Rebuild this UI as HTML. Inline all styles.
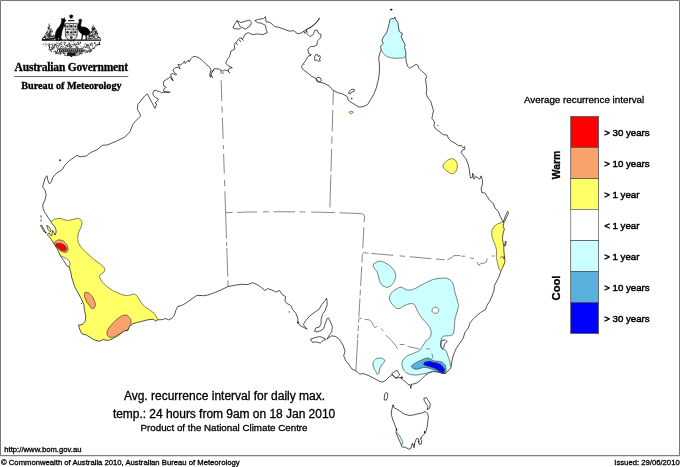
<!DOCTYPE html>
<html lang="en">
<head>
<meta charset="utf-8">
<title>Average recurrence interval for daily maximum temperature</title>
<style>
html,body{margin:0;padding:0;background:#fff;}
body{width:680px;height:467px;position:relative;overflow:hidden;font-family:"Liberation Sans",sans-serif;color:#000;}
.t{position:absolute;white-space:nowrap;line-height:1;font-family:"Liberation Sans",sans-serif;-webkit-text-stroke:0.3px #000;}
.serif{font-family:"Liberation Serif",serif;font-weight:bold;}
.lab{left:604.2px;font-size:9.7px;-webkit-text-stroke:0.45px #000;margin-top:0.6px;}
.rot{font-weight:bold;font-size:11.2px;transform:translate(-50%,-50%) rotate(-90deg);}
.sm{font-size:7.7px;}
#map{position:absolute;left:0;top:0;}
</style>
</head>
<body>
<svg id="map" width="680" height="467" viewBox="0 0 680 467">
<path d="M0.5,456V0.5H679.5V456" fill="none" stroke="#777" stroke-width="1"/><path d="M0,455.65H680" stroke="#808080" stroke-width="1.1"/>
<!--MAP-->
<defs><clipPath id="land"><path d="M50.4,220.8L48.3,217.8L46.6,214.9L44.4,211.9L43.1,208.4L42.7,205L45,200L46.2,194.7L45,190.3L42.7,186.8L44.1,181.5L45.5,177.1L47.1,175.8L47.6,179.7L49.4,183.8L51.5,181.5L52.9,177.1L56.5,173.2L61.8,170L65.3,164.7L69.2,160.8L74.1,157.3L76.8,155.5L80.3,156.8L86.5,155.9L90.9,152.4L97.1,149.7L102.4,145.3L107.6,144.9L112.9,142.6L117.6,140.6L124.7,137.1L130,131.8L132.6,124.7L136.2,120.3L140.6,116.2L139.7,113.2L137.4,109.7L137.9,104.4L141.5,100L145,95.6L147.3,93.8L155,108.4L155.6,106.8L156.7,104L155,102.9L157.8,100.6L158.4,99L155.5,97.5L153.4,95.6L152.8,93.4L153.9,90.6L156.1,90.1L157.8,91.7L159.5,91.2L161.7,92.9L163.9,92.3L170.1,92.3L163.9,91.4L163.4,89.5L165.1,88.4L166.2,87.3L163.9,86.2L163.4,83.9L163.9,81.2L166.2,79.5L168.4,78.4L170.1,76.7L171.7,78.4L172.9,80.6L171.4,77L170.6,74.5L172.9,73.4L175.6,75L176.7,74.5L174,72.2L172.9,70L175.1,67.8L177.9,67.2L180.1,68.9L179,66.1L177.9,64.5L180.6,65L182.9,63.3L184.5,61.1L185.3,63.6L186.8,61.7L188.4,60L189.1,61.9L191.1,58.6L193.1,56.6L195.8,56.6L199.1,57.9L202.4,60.6L206.4,64.6L209.7,67.2L211,69.9L209.7,74.5L210.4,77.2L211.5,73L212.3,71.2L214.3,68.5L219.6,69.2L222.3,71.2L225,69.9L228.3,71.1L228.9,68.4L232.3,67.7L228.3,65.8L225.6,63.1L227.6,59.1L229.6,56.5L230.9,51.2L234.9,49.2L234.2,44.5L236.9,41.2L239.6,37.9L242.9,38.5L244.9,34.6L248.2,32.6L252.2,34.6L257.5,33.9L262.8,34.6L267.4,32.6L266.1,29.2L265.4,25.3L261.5,23.3L257.5,22.6L254.8,20.6L258.8,19.3L263.5,18.6L265.4,16.6L266.1,21.9L268.1,21.9L271.4,23.3L274.7,26.6L278.7,27.3L284,29.2L289.3,31.2L293.3,30.6L298,33.9L301.9,32.6L306.6,29.3L311.9,26.5L315.8,23.2L318.5,19.9L319.4,17.9L318.5,19.9L315.8,23.2L311.9,26.5L306.6,29.6L305.9,32.6L309.9,36.6L313.2,34.6L314.6,30.6L317.2,30L318.5,33.3L321.2,34.6L320.5,37.9L317.2,41.2L317.2,44.6L313.9,46.5L310.6,46.5L307.9,49.2L308.6,53.2L310.6,54.5L307.9,56.5L305.3,61.2L301.3,66.5L303.3,69.8L307.9,73.1L311.9,76.4L315.9,78.4L318.6,81.9L323.9,83.2L329.2,85.9L332.5,89.9L337.2,92.5L342.5,93.9L347.1,96.5L348.5,100.5L352.4,103.1L355.8,105.1L359.1,107.1L363.7,106.5L367.7,104.5L370.4,99.8L373.7,94.5L376.3,87.9L378.3,79.9L379.3,73.3L379.5,66.6L379.2,62.1L378.6,58.1L379.9,52.8L381.2,50.1L380.6,46.2L383.2,43.5L381.9,40.2L383.9,36.2L386.5,32.9L387.9,28.9L389.2,23.6L389.9,19.6L391.9,18.3L393.9,18.9L394.8,16.9L395.8,19.6L397.8,22.3L398.5,26.9L399.2,31.5L402.5,33.5L401.2,36.9L403.1,40.8L405.1,44.8L404.5,47.5L405.8,51.5L405.8,56.8L406.2,61.6L407.6,66.3L409.6,68.3L412.9,66.3L416.2,64.3L418.2,65.6L418.9,68.3L422.2,71.6L425.5,74.2L426.8,76.2L425.5,79.6L426.2,84.2L426.8,89.5L426.2,94.2L428.1,98.1L430.8,101.5L432.1,106.1L433.5,110.8L432.6,114.6L431.9,118.6L434.6,121.9L433.9,125.9L435.9,129.2L439.9,131.9L443.2,134.6L447.2,135.2L448.5,138.5L451.2,141.2L455.1,143.2L458.5,145.8L461.1,145.2L463.1,147.8L464.4,146.5L465.1,149.2L462.4,149.8L461.1,152.5L462.5,154.6L465.8,158.6L467.8,163.3L469.2,168.6L469.8,173.9L470.5,177.9L472.5,177.2L472.5,173.2L473.8,175.2L473.8,179.2L475.8,176.5L479.8,179.2L481.1,175.9L482.4,179.9L482.4,184.5L481.1,188.5L481.8,192.5L485.1,193.1L487.1,196.5L489.7,200.4L493.1,203.3L495.1,208L498.5,211.9L500.4,216.6L502.4,220.6L503.8,223.2L503.1,226.5L504.4,229.2L503.1,233.2L502.4,238.5L503.1,242.5L503.8,246.5L503.8,250.4L504.4,255.8L505,261.9L503.1,266.6L501.1,270.6L499.1,276.5L496.4,281.9L494.4,285.8L494.2,289.8L492.4,295.1L489.8,301.1L487,305.3L485.7,309.3L480.4,312.6L476.4,315.9L472.4,319.9L469.7,323.2L468.4,327.9L465.1,331.9L463.1,338.5L459.8,343.1L456.5,347.8L454.5,352.4L453,356.2L451.7,362.2L451,367.5L448.4,370.8L445.7,373.5L442.4,373.5L438.4,372.2L433.1,371.5L429.1,372.8L425.1,375.5L421.2,379.5L417.2,382.8L413.2,384.1L411.6,384.1L410.8,388.5L410,384.5L408.5,384.8L405.9,382.1L402.6,379.5L399.9,377.5L396,378.2L399.7,374.9L397,370.2L391.7,373.5L393.7,376.2L396,378.2L393.7,376.2L392,374.6L389.1,376.9L385.8,380.2L382.4,382.2L378.5,380.8L373.8,378.2L368.5,375.5L363.2,373.5L359.9,374.2L355.9,370.9L351.9,368.9L348.6,364.2L345.7,360.5L343.7,355.8L345,351.1L343,345.1L339.7,339.8L335.7,336.5L331.7,335.8L329,337.5L327.1,339.2L329.1,335.2L331.7,331.9L332.4,326.5L330.4,321.9L328.4,317.9L327.1,318.6L325.1,323.9L323.8,328.5L321.1,330.5L317.1,331.9L314.5,331.2L315.8,327.9L319.1,327.2L321.1,323.9L321.1,319.2L322.4,314.6L325.1,310.6L327.1,305.3L327.1,301.3L326.5,298L325.8,300L324.4,301.3L321.8,304.6L319.1,309.3L315.1,311.9L309.8,315.9L305.8,320.6L303.2,324.6L307.2,329.2L303.2,327.2L300.5,325.9L297.9,322.6L297.9,318.6L295.9,313.3L292.6,309.3L290.6,305.3L286.6,303.3L285,301.2L285.6,296.5L282.3,294.6L279.6,290.6L275.7,291.9L271.7,289.9L267.7,288.6L265,290.6L261.1,287.3L257.1,284.6L252.4,282.6L247.8,284.6L241.2,284.3L234.5,285.3L227.9,286.6L221.2,289.9L214.6,292.6L208,295L203.6,295.7L197,295.3L192.3,298.6L187.7,301.9L182.4,305.2L177.7,306.5L175.8,310.5L174.4,315.2L171.8,318.5L168.5,319.8L165.8,318.5L162.5,319.6L157.8,319.8L155.8,321.2L153.2,319.2L147.9,319.8L142.6,321.2L137.3,322.5L132.6,323.8L129.3,326.5L128,330.4L124,331.1L122.4,332.4L117.7,335.8L113.1,338.4L108.4,340.4L103.1,339.7L99.1,341.3L93.8,339.7L89.8,337.1L86.5,335.1L81.9,333.8L79.9,329.8L78.5,325.1L82.5,324.5L85.2,321.2L85.8,316.5L84.5,310.5L83.9,304.6L81.2,298.6L77.9,292.6L74.6,286.6L72.6,280L71.9,278.2L70.6,271.5L69.2,266.9L66.6,265.6L63.9,260.9L60.6,256.3L58.6,251.6L57.9,250.1L54.6,244.8L51.3,239.3L48.7,236.3L47.2,234.5L49.3,232.8L50.3,234.5L51.6,236L52.1,233.3L52.6,230.3L53.8,232.4L55.1,235L56,232.8L56,229.8L54.7,226.8L52.1,223.8ZM393.2,404.9L394.2,408L396.5,408.9L400.5,411.5L404.5,414.2L409.2,415.5L413.8,414.9L419.1,413.5L422.4,412.9L425.1,411.5L427.7,413.5L428.4,416.9L427.7,422.2L427.1,427.5L426.3,430.3L425.3,432.9L424.4,431L424.4,434.1L421.7,436.5L420.5,439L421.7,440.6L421.2,444.2L419.1,444.2L418.6,439L416.5,438.5L415,442.1L414,447.8L412.4,443.2L410.9,448.3L408.8,449.3L405.7,447.3L402.1,447L400.6,443.2L398,437.5L396,432.4L396.5,429.3L395.4,426.2L392.9,420L391.2,414.2L391.9,408.9Z"/></clipPath></defs>
<g clip-path="url(#land)" stroke="#3a3a3a" stroke-width="0.65" stroke-linejoin="round">
<path d="M50.8,221.3C53.5,220.8 52.1,220.1 53.4,219.6C54.7,219.1 55.8,218.9 57.3,218.7C58.8,218.5 59.3,218.3 60.7,218.5C62.1,218.7 62.7,219.2 64.1,219.6C65.5,220 66.1,220.4 67.5,220.4C68.9,220.4 69.5,220.1 71,219.8C72.5,219.5 73.5,219.3 75,219C76.5,218.7 77.1,217.8 78.5,218.3C79.9,218.8 81.3,219.9 81.8,221.6C82.3,223.3 81.8,224.6 81.1,226.9C80.4,229.2 79.2,230.4 78.5,232.9C77.8,235.4 77.6,237.1 77.8,239.5C78,241.9 78.4,242.9 79.5,245C80.6,247.1 81.7,247.9 83.5,249.8C85.3,251.7 86.3,252.6 88.5,254.6C90.7,256.6 92.1,257.9 94.5,259.8C96.9,261.7 98.5,262.5 100.5,264.2C102.5,265.9 103.7,266.6 104.4,268.2C105.1,269.8 104.7,270.7 103.8,272.2C102.9,273.7 100.3,273.9 99.8,275.5C99.3,277.1 100,278.3 101.1,280.2C102.2,282.1 103.1,282.9 105.1,284.8C107.1,286.7 108.6,287.9 111.1,289.5C113.6,291.1 114.9,291.6 117.7,292.8C120.5,294 122.6,294.9 125,295.4C127.4,295.9 127.8,295.5 129.7,295.2C131.6,294.9 132.7,293.8 134.3,294.1C135.9,294.4 136.5,295.5 137.6,296.8C138.7,298.1 138.8,298.9 139.9,300.6C141,302.3 141.5,303.5 143.2,305.2C144.9,306.9 146.5,307.7 148.5,309.2C150.5,310.7 151.7,311.2 153.2,312.5C154.7,313.8 154.9,314.3 155.8,315.8C156.7,317.3 157.2,318.2 157.6,319.8C158,321.4 159.5,322.6 158,324C156.5,325.4 155.6,324.6 150,327C144.4,329.4 138,332.2 130,336C122,339.8 118,344 110,346C102,348 97.2,348 90,346C82.8,344 76.8,343.2 74,336C71.2,328.8 77.2,322.8 76,310C74.8,297.2 69.4,280.6 68,272C66.6,263.4 68.8,268.6 69.2,266.9C69.6,265.2 70,264.9 69.9,263.6C69.8,262.3 69.7,261.5 68.6,260.3C67.5,259.1 66.3,258.5 64.6,257.6C62.9,256.7 61.7,256.5 60,255.6C58.3,254.7 59,256.1 56,253C53,249.9 48.6,245 45,240C41.4,235 39,231.6 38,228C37,224.4 37.4,223.3 40,222C42.6,220.7 48.1,221.8 50.8,221.3Z" fill="#ffff66"/>
<path d="M54.6,243.5C54.6,241.5 54.4,241.9 56.6,240.8C58.8,239.7 58.3,239.5 61.2,240.2C64.1,240.9 63,240.4 65.2,242.8C67.4,245.2 67.1,244.6 67.8,247.5C68.5,250.4 68.5,250 67.2,251.5C65.9,253 66.3,252.6 63.9,252.1C61.5,251.6 62.3,251.9 59.9,250.1C57.5,248.3 58.4,249 56.6,246.8C54.8,244.6 54.6,245.5 54.6,243.5Z" fill="#f8a26c"/>
<path d="M55.9,244.8C55.7,243 56.3,243.7 58.5,243.5C60.7,243.3 60.1,243.1 62.5,244.2C64.9,245.3 64.4,244.8 65.6,246.8C66.8,248.8 66.9,248.8 66.1,250.1C65.3,251.4 65.5,251.2 63.2,250.8C60.9,250.4 61.6,250.8 59.2,248.8C56.8,246.8 56.1,246.6 55.9,244.8Z" fill="#ff0000"/>
<path d="M84.5,293.9C85,291.5 85,292.1 87.2,292.6C89.4,293.1 88.8,292.4 91.2,295.3C93.6,298.2 93.2,297.7 94.5,301.2C95.8,304.7 95.8,303.5 95.1,305.9C94.4,308.3 94.5,308.7 92.5,308.5C90.5,308.3 91.4,308.1 89.2,305.2C87,302.3 87.4,303.7 85.8,299.9C84.2,296.1 84,296.3 84.5,293.9Z" fill="#f8a26c"/>
<path d="M107.1,332.4C107.3,329.5 106.9,331.1 109.1,327.8C111.3,324.5 110.4,325.8 113.7,322.5C117,319.2 115.2,320.2 119,317.8C122.8,315.4 121.7,315.4 125,315.2C128.3,315 127,315 129,317.2C131,319.4 131,318.3 131,321.8C131,325.3 131.4,324.5 129,327.8C126.6,331.1 127.5,329.4 123.7,331.8C119.9,334.2 121.5,333.3 117.7,335.1C113.9,336.9 115.5,336.7 112.4,337.1C109.3,337.5 110.2,338 108.4,336.4C106.6,334.8 106.9,335.3 107.1,332.4Z" fill="#f8a26c"/>
<path d="M381.2,50.1C382.6,51.9 382.6,52.8 383.9,54.1C385.2,55.4 386,56 387.9,56.8C389.8,57.6 390.8,57.8 393.2,58.1C395.6,58.4 397.4,58.4 399.8,58.1C402.2,57.8 403.1,58.4 405.1,56.8C407.1,55.2 409.4,55.4 410,50C410.6,44.6 410,37.6 408,30C406,22.4 403.6,15.6 400,12C396.4,8.4 393.4,8.4 390,12C386.6,15.6 385.6,23.4 383,30C380.4,36.6 377.4,41 377,45C376.6,49 379.8,48.3 381.2,50.1Z" fill="#ccffff"/>
<path d="M349.3,112.2C349.5,111.6 349.4,111.6 350.5,111.4C351.6,111.2 351.7,111.2 352.5,111.6C353.3,112 353.3,112 353,112.6C352.7,113.2 352.5,113.2 351.5,113.4C350.5,113.6 350.7,113.7 350,113.3C349.3,112.9 349.1,112.8 349.3,112.2Z" fill="#ffff66"/>
<path d="M443.1,166.1C443.4,163.8 443.3,164.3 445.7,162C448.1,159.7 447.6,160 450.3,159.1C453,158.2 451.8,158.4 453.9,159.4C456,160.4 455.4,160.1 456.5,162.2C457.6,164.3 457.3,163.2 457.3,165.8C457.3,168.4 457.5,167.6 456.5,169.9C455.5,172.2 456.1,171.6 454.4,172.8C452.7,174 453.6,173.9 451.4,173.5C449.2,173.1 450,173.2 447.8,171.7C445.6,170.2 446.3,170.8 444.7,168.9C443.1,167 442.8,168.4 443.1,166.1Z" fill="#ffff66"/>
<path d="M501.1,222.6C499.2,223.5 498.2,223.3 496.5,224.6C494.8,225.9 493.4,227.2 492.5,229.2C491.6,231.2 491.7,232.4 491.8,234.5C491.9,236.6 492.4,237.7 493.1,239.8C493.8,241.9 494.4,243 495.1,245.1C495.8,247.2 496.2,248.1 496.5,250.4C496.8,252.7 496.2,254 496.4,256.6C496.6,259.2 496.9,260.5 497.7,263.3C498.5,266.1 498.5,269.3 500.4,270.6C502.3,271.9 504.9,274.1 507,270C509.1,265.9 510.2,259 511,250C511.8,241 512,231 511,225C510,219 508,220.5 506,220C504,219.5 503,221.7 501.1,222.6Z" fill="#ffff66"/>
<path d="M503.2,257.7C503.2,257 503.5,256.8 504,256.8C504.5,256.8 504.8,257 504.8,257.7C504.8,258.4 504.5,258.8 504,258.8C503.5,258.8 503.2,258.4 503.2,257.7Z" fill="#f07040"/>
<path d="M373.3,265.3C373.7,263.3 373.5,263.9 375.9,262.6C378.3,261.3 377.3,261.1 380.6,261.3C383.9,261.5 382.1,261.1 385.9,263.3C389.7,265.5 388.8,264.6 391.9,267.9C395,271.2 394.1,269.7 395.2,273.2C396.3,276.7 396.1,274.9 395.2,278.5C394.3,282.1 394.7,281.1 392.5,283.9C390.3,286.7 391.1,286 388.5,286.9C385.9,287.8 387,287.5 384.6,286.5C382.2,285.5 383,286.3 381.2,283.9C379.4,281.5 380.5,283 379.2,279.2C377.9,275.4 378.8,276.1 377.3,272.6C375.8,269.1 375.9,271 374.6,268.6C373.3,266.2 372.9,267.3 373.3,265.3Z" fill="#ccffff"/>
<path d="M389.9,295.8C390.4,294.2 391,293.3 392.5,291.8C394,290.3 395.5,289.4 397.2,288.5C398.9,287.6 399.6,287.1 401.2,287.2C402.8,287.3 403.4,288.6 405.1,289.2C406.8,289.8 407.8,290.2 409.8,290.1C411.8,290 412.8,289.5 415.1,288.5C417.4,287.5 418.6,286.5 421.1,285.2C423.6,283.9 425.1,283.1 427.7,281.9C430.3,280.7 431.6,279.9 434.3,279.2C437,278.5 438.8,278.5 441,278.3C443.2,278.1 443.5,277.8 445.3,278.1C447.1,278.4 448.4,278.6 450,279.9C451.6,281.2 452.4,282.2 453.3,284.5C454.2,286.8 453.9,288.5 454.6,291.2C455.3,293.9 455.9,295.4 456.6,297.8C457.3,300.2 457.5,301.5 457.9,303C458.3,304.5 458.7,303.5 458.5,305.3C458.3,307.1 457.8,309.2 457.1,311.9C456.4,314.6 455.6,315.9 455.1,318.6C454.6,321.3 454.8,322.5 454.5,325.2C454.2,327.9 454.3,329.9 453.8,331.9C453.3,333.9 453.1,334.4 451.8,335.2C450.5,336 448.9,335.5 447.2,335.8C445.5,336.1 444.4,335.7 443.2,336.5C442,337.3 441.7,337.9 441.2,339.8C440.7,341.7 440.5,343.9 440.8,345.8C441.1,347.7 441.5,348.2 442.5,349.1C443.5,350 444.7,349.1 445.8,350.4C446.9,351.7 447,353.7 447.8,355.8C448.6,357.9 449.3,359.2 449.8,361.1C450.3,363 449.8,363.7 450.4,365.5C451,367.3 453.1,367.7 453,370C452.9,372.3 452.6,375.6 450,377C447.4,378.4 443.4,378 440,377C436.6,376 435.3,372.9 433.1,372C430.9,371.1 430.6,372.3 429,372.6C427.4,372.9 427.2,373.1 425.1,373.5C423,373.9 421.1,374.5 418.5,374.8C415.9,375.1 414.3,375.2 411.9,374.8C409.5,374.4 408.2,374 406.5,372.8C404.8,371.6 404.1,370.8 403.2,368.9C402.3,367 401.8,365.5 401.9,363.5C402,361.5 402.7,360.5 403.9,358.9C405.1,357.3 405.8,356.8 407.9,355.6C410,354.4 412.1,354 414.5,352.9C416.9,351.8 418.2,351.6 419.8,350.3C421.4,349 421.2,348.3 422.5,346.3C423.8,344.3 425.2,341.9 426.5,340.3C427.8,338.7 428.3,339.9 429.2,338.5C430.1,337.1 431.1,335.3 431.2,333.2C431.3,331.1 430.8,329.9 429.9,327.9C429,325.9 428.3,325.3 426.6,323.2C424.9,321.1 423.2,319.8 421.3,317.3C419.4,314.8 418.7,313.1 417.3,310.6C415.9,308.1 415.9,306.2 414.5,304.8C413.1,303.4 412.3,303.6 410.4,303.7C408.5,303.8 407.3,304.3 404.9,305.3C402.5,306.3 400.8,308.6 398.4,308.6C396,308.6 394.8,307 393.1,305.3C391.4,303.6 390.4,301.9 389.8,300C389.2,298.1 389.4,297.4 389.9,295.8Z" fill="#ccffff"/>
<path d="M432.1,310.4C432.1,308.9 432.1,309 433.2,308C434.3,307 433.9,307.4 435.4,307.4C436.9,307.4 436.5,307 437.6,308C438.7,309 438.6,308.9 438.6,310.4C438.6,311.9 438.7,311.7 437.6,312.6C436.5,313.5 436.9,313.2 435.4,313.2C433.9,313.2 434.3,313.5 433.2,312.6C432.1,311.7 432.1,311.9 432.1,310.4Z" fill="#ffffff"/>
<path d="M411.9,365.5C413.2,364.2 412.7,364.7 415.8,362.9C418.9,361.1 417.6,361.8 421.2,360.2C424.8,358.6 423.4,358.6 426.5,358.2C429.6,357.8 427.8,358 430.4,358.9C433,359.8 431.3,360 434.4,360.9C437.5,361.8 436.6,360.6 439.7,361.5C442.8,362.4 441.7,361.5 443.7,363.5C445.7,365.5 445,364.6 445.7,367.5C446.4,370.4 446.4,370 445.7,372.2C445,374.4 445.7,374 443.7,374.2C441.7,374.4 442.8,374.1 439.7,372.8C436.6,371.5 437.9,371.7 434.4,370.2C430.9,368.7 432.6,369.1 429.1,368.2C425.6,367.3 427.3,367.3 423.8,367.5C420.3,367.7 421.6,368.4 418.5,368.9C415.4,369.4 416.7,369.6 414.5,368.9C412.3,368.2 412.8,368 411.9,366.9C411,365.8 410.6,366.8 411.9,365.5Z" fill="#5aafdc"/>
<path d="M423.8,363.5C424.5,362.2 424.7,361.9 427.8,361.5C430.9,361.1 429.6,361.5 433.1,362.2C436.6,362.9 435.3,362.2 438.4,363.5C441.5,364.8 440.4,364 442.4,366.2C444.4,368.4 444.2,368 444.4,370.2C444.6,372.4 444.7,372.4 443.1,372.8C441.5,373.2 442.1,372.8 439.7,371.5C437.3,370.2 438.9,370.4 435.8,368.9C432.7,367.4 433.7,368 430.4,366.9C427.1,365.8 428,366.6 425.8,365.5C423.6,364.4 423.1,364.8 423.8,363.5Z" fill="#0000ff"/>
<path d="M373.1,364.2C373.3,361.8 372.7,362.3 374.5,360.3C376.3,358.3 375.6,358.8 378.5,358.3C381.4,357.8 381.1,357.8 383.1,358.9C385.1,360 384.8,359.6 384.4,361.6C384,363.6 383.3,362.5 381.8,364.9C380.3,367.3 381,365.8 379.8,368.9C378.6,372 379.4,373.3 378.1,374.2C376.8,375.1 377.2,373.7 375.8,371.5C374.4,369.3 374.7,370 373.8,367.6C372.9,365.2 372.9,366.6 373.1,364.2Z" fill="#ccffff"/>
<path d="M395.5,434C395.2,432.1 396.9,432.5 398.4,434.2C399.9,435.9 402.5,440.7 402.8,442.6C403.1,444.5 401.5,445.3 400,443.6C398.5,441.9 395.8,435.9 395.5,434Z" fill="#ccffff"/>
</g>
<g fill="none" stroke="#555" stroke-width="0.7">
<path d="M220.8,70L228.1,286.6" stroke-dasharray="3.8 6.2 21.3 5 6.3 5 21.3 6.1 4 4.9 19.9 6.2 6.3 5 47.2 3.3 4.2 2 28.6 4 6 99"/>
<path d="M333.4,90.5L329.7,213" stroke-dasharray="14.5 5 21.4 5 7.5 5 22.5 3.6 32.6 99"/>
<path d="M225.8,212.7Q292,210.4 361.8,213.7Q364.3,214 364.5,216.4" stroke-dasharray="6.8 4.8 20 5.8 5.9 4.7 21.2 4.7 5.9 5.9 23.5 4.7 99"/>
<path d="M364.5,216.4L355.9,370.9" stroke-dasharray="5.9 4.9 21.2 5.7 8.7 3.9 19.3 3.8 5.8 2.9 18.3 1.9 3.9 2.9 5.7 2.9 4.9 1 99"/>
<path d="M362.7,252.7L447.3,260" stroke-dasharray="5.8 2.9 22 6.4 5.3 4.7 21.9 4.6 8.7 99"/>
<path d="M447.3,260L451,258L454,255.6L460,255.6M461.2,256.2L465.2,256.2M469.9,258L473.9,258.6M477.2,261.9L478.5,265.3L481.2,263.3L483.8,263.3L486.5,261.9L487.1,258.6M491.8,256L494.4,256M499.8,257.7L503.1,256.4"/>
<path d="M358.9,317.8L361.8,318.4M364.7,319.3L369.5,320L371.4,321.6L373.4,325.5L375.3,327.8L377.2,325.8M381,328.4L383.6,331.2M385.9,335.1L391.7,340.9L396.5,346.7L397.4,348.6M399.7,344.5L404.4,344.5M407.7,346.5L414.3,347.8L419.6,349.1M426.3,348.5L430,349.1M431.8,353.6L433.1,358.2"/>
</g>
<g fill="none" stroke="#1a1a1a" stroke-width="0.75" stroke-linejoin="round">
<path d="M50.4,220.8L48.3,217.8L46.6,214.9L44.4,211.9L43.1,208.4L42.7,205L45,200L46.2,194.7L45,190.3L42.7,186.8L44.1,181.5L45.5,177.1L47.1,175.8L47.6,179.7L49.4,183.8L51.5,181.5L52.9,177.1L56.5,173.2L61.8,170L65.3,164.7L69.2,160.8L74.1,157.3L76.8,155.5L80.3,156.8L86.5,155.9L90.9,152.4L97.1,149.7L102.4,145.3L107.6,144.9L112.9,142.6L117.6,140.6L124.7,137.1L130,131.8L132.6,124.7L136.2,120.3L140.6,116.2L139.7,113.2L137.4,109.7L137.9,104.4L141.5,100L145,95.6L147.3,93.8L155,108.4L155.6,106.8L156.7,104L155,102.9L157.8,100.6L158.4,99L155.5,97.5L153.4,95.6L152.8,93.4L153.9,90.6L156.1,90.1L157.8,91.7L159.5,91.2L161.7,92.9L163.9,92.3L170.1,92.3L163.9,91.4L163.4,89.5L165.1,88.4L166.2,87.3L163.9,86.2L163.4,83.9L163.9,81.2L166.2,79.5L168.4,78.4L170.1,76.7L171.7,78.4L172.9,80.6L171.4,77L170.6,74.5L172.9,73.4L175.6,75L176.7,74.5L174,72.2L172.9,70L175.1,67.8L177.9,67.2L180.1,68.9L179,66.1L177.9,64.5L180.6,65L182.9,63.3L184.5,61.1L185.3,63.6L186.8,61.7L188.4,60L189.1,61.9L191.1,58.6L193.1,56.6L195.8,56.6L199.1,57.9L202.4,60.6L206.4,64.6L209.7,67.2L211,69.9L209.7,74.5L210.4,77.2L211.5,73L212.3,71.2L214.3,68.5L219.6,69.2L222.3,71.2L225,69.9L228.3,71.1L228.9,68.4L232.3,67.7L228.3,65.8L225.6,63.1L227.6,59.1L229.6,56.5L230.9,51.2L234.9,49.2L234.2,44.5L236.9,41.2L239.6,37.9L242.9,38.5L244.9,34.6L248.2,32.6L252.2,34.6L257.5,33.9L262.8,34.6L267.4,32.6L266.1,29.2L265.4,25.3L261.5,23.3L257.5,22.6L254.8,20.6L258.8,19.3L263.5,18.6L265.4,16.6L266.1,21.9L268.1,21.9L271.4,23.3L274.7,26.6L278.7,27.3L284,29.2L289.3,31.2L293.3,30.6L298,33.9L301.9,32.6L306.6,29.3L311.9,26.5L315.8,23.2L318.5,19.9L319.4,17.9L318.5,19.9L315.8,23.2L311.9,26.5L306.6,29.6L305.9,32.6L309.9,36.6L313.2,34.6L314.6,30.6L317.2,30L318.5,33.3L321.2,34.6L320.5,37.9L317.2,41.2L317.2,44.6L313.9,46.5L310.6,46.5L307.9,49.2L308.6,53.2L310.6,54.5L307.9,56.5L305.3,61.2L301.3,66.5L303.3,69.8L307.9,73.1L311.9,76.4L315.9,78.4L318.6,81.9L323.9,83.2L329.2,85.9L332.5,89.9L337.2,92.5L342.5,93.9L347.1,96.5L348.5,100.5L352.4,103.1L355.8,105.1L359.1,107.1L363.7,106.5L367.7,104.5L370.4,99.8L373.7,94.5L376.3,87.9L378.3,79.9L379.3,73.3L379.5,66.6L379.2,62.1L378.6,58.1L379.9,52.8L381.2,50.1L380.6,46.2L383.2,43.5L381.9,40.2L383.9,36.2L386.5,32.9L387.9,28.9L389.2,23.6L389.9,19.6L391.9,18.3L393.9,18.9L394.8,16.9L395.8,19.6L397.8,22.3L398.5,26.9L399.2,31.5L402.5,33.5L401.2,36.9L403.1,40.8L405.1,44.8L404.5,47.5L405.8,51.5L405.8,56.8L406.2,61.6L407.6,66.3L409.6,68.3L412.9,66.3L416.2,64.3L418.2,65.6L418.9,68.3L422.2,71.6L425.5,74.2L426.8,76.2L425.5,79.6L426.2,84.2L426.8,89.5L426.2,94.2L428.1,98.1L430.8,101.5L432.1,106.1L433.5,110.8L432.6,114.6L431.9,118.6L434.6,121.9L433.9,125.9L435.9,129.2L439.9,131.9L443.2,134.6L447.2,135.2L448.5,138.5L451.2,141.2L455.1,143.2L458.5,145.8L461.1,145.2L463.1,147.8L464.4,146.5L465.1,149.2L462.4,149.8L461.1,152.5L462.5,154.6L465.8,158.6L467.8,163.3L469.2,168.6L469.8,173.9L470.5,177.9L472.5,177.2L472.5,173.2L473.8,175.2L473.8,179.2L475.8,176.5L479.8,179.2L481.1,175.9L482.4,179.9L482.4,184.5L481.1,188.5L481.8,192.5L485.1,193.1L487.1,196.5L489.7,200.4L493.1,203.3L495.1,208L498.5,211.9L500.4,216.6L502.4,220.6L503.8,223.2L503.1,226.5L504.4,229.2L503.1,233.2L502.4,238.5L503.1,242.5L503.8,246.5L503.8,250.4L504.4,255.8L505,261.9L503.1,266.6L501.1,270.6L499.1,276.5L496.4,281.9L494.4,285.8L494.2,289.8L492.4,295.1L489.8,301.1L487,305.3L485.7,309.3L480.4,312.6L476.4,315.9L472.4,319.9L469.7,323.2L468.4,327.9L465.1,331.9L463.1,338.5L459.8,343.1L456.5,347.8L454.5,352.4L453,356.2L451.7,362.2L451,367.5L448.4,370.8L445.7,373.5L442.4,373.5L438.4,372.2L433.1,371.5L429.1,372.8L425.1,375.5L421.2,379.5L417.2,382.8L413.2,384.1L411.6,384.1L410.8,388.5L410,384.5L408.5,384.8L405.9,382.1L402.6,379.5L399.9,377.5L396,378.2L399.7,374.9L397,370.2L391.7,373.5L393.7,376.2L396,378.2L393.7,376.2L392,374.6L389.1,376.9L385.8,380.2L382.4,382.2L378.5,380.8L373.8,378.2L368.5,375.5L363.2,373.5L359.9,374.2L355.9,370.9L351.9,368.9L348.6,364.2L345.7,360.5L343.7,355.8L345,351.1L343,345.1L339.7,339.8L335.7,336.5L331.7,335.8L329,337.5L327.1,339.2L329.1,335.2L331.7,331.9L332.4,326.5L330.4,321.9L328.4,317.9L327.1,318.6L325.1,323.9L323.8,328.5L321.1,330.5L317.1,331.9L314.5,331.2L315.8,327.9L319.1,327.2L321.1,323.9L321.1,319.2L322.4,314.6L325.1,310.6L327.1,305.3L327.1,301.3L326.5,298L325.8,300L324.4,301.3L321.8,304.6L319.1,309.3L315.1,311.9L309.8,315.9L305.8,320.6L303.2,324.6L307.2,329.2L303.2,327.2L300.5,325.9L297.9,322.6L297.9,318.6L295.9,313.3L292.6,309.3L290.6,305.3L286.6,303.3L285,301.2L285.6,296.5L282.3,294.6L279.6,290.6L275.7,291.9L271.7,289.9L267.7,288.6L265,290.6L261.1,287.3L257.1,284.6L252.4,282.6L247.8,284.6L241.2,284.3L234.5,285.3L227.9,286.6L221.2,289.9L214.6,292.6L208,295L203.6,295.7L197,295.3L192.3,298.6L187.7,301.9L182.4,305.2L177.7,306.5L175.8,310.5L174.4,315.2L171.8,318.5L168.5,319.8L165.8,318.5L162.5,319.6L157.8,319.8L155.8,321.2L153.2,319.2L147.9,319.8L142.6,321.2L137.3,322.5L132.6,323.8L129.3,326.5L128,330.4L124,331.1L122.4,332.4L117.7,335.8L113.1,338.4L108.4,340.4L103.1,339.7L99.1,341.3L93.8,339.7L89.8,337.1L86.5,335.1L81.9,333.8L79.9,329.8L78.5,325.1L82.5,324.5L85.2,321.2L85.8,316.5L84.5,310.5L83.9,304.6L81.2,298.6L77.9,292.6L74.6,286.6L72.6,280L71.9,278.2L70.6,271.5L69.2,266.9L66.6,265.6L63.9,260.9L60.6,256.3L58.6,251.6L57.9,250.1L54.6,244.8L51.3,239.3L48.7,236.3L47.2,234.5L49.3,232.8L50.3,234.5L51.6,236L52.1,233.3L52.6,230.3L53.8,232.4L55.1,235L56,232.8L56,229.8L54.7,226.8L52.1,223.8Z"/>
<path d="M393.2,404.9L394.2,408L396.5,408.9L400.5,411.5L404.5,414.2L409.2,415.5L413.8,414.9L419.1,413.5L422.4,412.9L425.1,411.5L427.7,413.5L428.4,416.9L427.7,422.2L427.1,427.5L426.3,430.3L425.3,432.9L424.4,431L424.4,434.1L421.7,436.5L420.5,439L421.7,440.6L421.2,444.2L419.1,444.2L418.6,439L416.5,438.5L415,442.1L414,447.8L412.4,443.2L410.9,448.3L408.8,449.3L405.7,447.3L402.1,447L400.6,443.2L398,437.5L396,432.4L396.5,429.3L395.4,426.2L392.9,420L391.2,414.2L391.9,408.9Z"/>
<path d="M232.9,27.9L234.9,23.9L236.9,20.6L240.9,22.6L244.9,21.3L249.5,20L251.5,22.6L250.2,25.9L245.5,29.2L241.5,27.3L238.9,29.2L234.9,28.6Z"/>
<path d="M314.6,57L315.5,54.8L317.5,54.5L318,56.5L319.8,55.5L320.5,58L319,59L320.5,60.8L318.5,61.2L316.5,60L314.8,60.5Z"/>
<path d="M348.5,93.5L349.5,91L352,89.2L354.4,89.5L354,91.5L351.5,92L350.5,93.9Z"/>
<path d="M316,79L318,77L320.5,78L321.5,80.5L319.5,82L317,81.5Z"/>
<path d="M310.5,339.2L314.5,337.8L319.8,336.5L323.1,337.8L325.8,339.2L323.1,340.5L320.4,343.1L315.8,341.8L312.5,342.5Z"/>
<path d="M384.2,399.8L384.6,394.5L386,392.4L387.7,393.5L387.5,397.5L386.3,400.2Z"/>
<path d="M423.8,398.3L426.4,397.6L430.4,404.2L429.7,408.2L427.1,409.6L428,406.5L424.4,400.9Z"/>
<path d="M503.3,221.9L505.2,216.5L507.7,211.3L508.4,213.3L506.2,218L504.2,222.2Z"/>
<path d="M504.6,246L505,243L505.9,241L505.9,243.5L505.2,246.2Z"/>
<path d="M441.6,340.5L445.2,339.8L447.2,341.8L444.5,343.8L443.9,347.8L442.5,349.1L440.8,345.8L441.2,342.5Z"/>
<path d="M236.9,20.6L240.5,27" />
<path d="M210.7,74.3L212.7,78M213.9,69.5L212.3,72.2M227.9,71.1L230,73.2M222,72.2L223.6,73.8M172.9,80.6L171,78.5M241.5,38.6L243.5,40.5M239.2,39.8L240.8,41.8M236,43L237.6,44.8M311.5,54.5L309.5,56M306,29.8L307.5,32.5M303.5,31L305,33.5" stroke-width="0.9"/>
<path d="M41,215.3V217.8M41.1,219.2V221.7" />
<path d="M46.6,225.4L48.6,226.3L51,230.3L50.4,232L48,229.6Z" fill="#ffff66" stroke-width="0.7"/>
<path d="M40.4,225.4L41.4,225L45,231.2L44.2,232Z" fill="#f4f48a" stroke-width="0.7"/>
</g>
<g fill="#111">
<ellipse cx="60" cy="160.3" rx="0.8" ry="1.1"/>
<ellipse cx="81.5" cy="303.6" rx="0.5" ry="0.5"/>
<ellipse cx="391.2" cy="9.6" rx="1.3" ry="0.9"/>
<ellipse cx="351.8" cy="98.5" rx="0.7" ry="0.7"/>
<ellipse cx="289.2" cy="311.9" rx="0.6" ry="0.6"/>
<ellipse cx="401.7" cy="377.5" rx="1.1" ry="0.9"/>
<ellipse cx="393" cy="405.4" rx="0.6" ry="0.6"/>
<ellipse cx="304" cy="64.5" rx="0.4" ry="0.4"/>
<ellipse cx="437.8" cy="125.5" rx="0.5" ry="0.5"/>
<ellipse cx="297.9" cy="322.6" rx="0.9" ry="1.0"/>
<ellipse cx="45.7" cy="232.4" rx="0.9" ry="0.9"/>
<ellipse cx="418.6" cy="441.6" rx="0.9" ry="0.8"/>
<ellipse cx="414.4" cy="444.6" rx="0.7" ry="0.8"/>
<ellipse cx="421.2" cy="438" rx="0.6" ry="0.6"/>
<ellipse cx="396.6" cy="429.4" rx="0.8" ry="0.9"/>
<ellipse cx="425" cy="432.3" rx="0.6" ry="0.6"/>
</g>
<!--/MAP-->
<!--CREST-->
<g id="crest">
<polygon points="71.2,13.7 71.8,15.3 73.4,14.8 72.5,16.2 73.9,17.1 72.3,17.3 72.4,19 71.2,17.9 70,19 70.1,17.3 68.5,17.1 69.9,16.2 69,14.8 70.6,15.3" fill="#000"/>
<rect x="68" y="20" width="6.4" height="1.2" fill="#222"/>
<path d="M65.4,23.4H77.2V34.5Q77.2,39 71.3,41.2Q65.4,39 65.4,34.5Z" fill="#e4e4e4" stroke="#111" stroke-width="0.7"/>
<path d="M65.4,29.3H77.2M69.3,23.4V29.3M73.3,23.4V35M65.4,35H77.2" stroke="#222" stroke-width="0.6" fill="none"/>
<g fill="#222"><circle cx="67.4" cy="26.5" r="1.1"/><circle cx="71.3" cy="26.3" r="1.2"/><circle cx="75.3" cy="26.5" r="1.1"/><circle cx="67.6" cy="32.2" r="1.2"/><circle cx="71.3" cy="32.4" r="1.2"/><circle cx="75.2" cy="32.2" r="1.1"/><circle cx="71.3" cy="37.6" r="1.3"/></g>
<polygon points="61.3,18.2 62.1,18.9 63.5,18.7 64.4,17.6 64.7,19.2 66,20.8 65.3,21.5 64.5,21.7 64.2,24 65.2,26.1 64.6,26.7 63.5,26.1 63.2,28.1 62.3,30.2 61.8,32.6 61.5,35.3 60.8,37.1 61.6,39.3 61.5,40.1 59.4,40.1 59.3,38.9 58.6,37.5 57.7,39.1 58.6,40.3 56,40.5 56.1,38.4 55.1,38.2 51.7,39.3 44.9,39.8 42.1,39.6 42.3,39.2 44.9,39.3 51.7,38.6 54.8,37 55.3,34.6 55.8,31.9 57.2,29.1 59.3,26.7 61,23.7 61.7,20.9 61.6,19.4" fill="#000" stroke="#000" stroke-width="0.5" stroke-linejoin="round"/>
<polygon points="78.3,20.4 79.1,19.4 80.3,18.9 81.4,19.4 81.9,20.5 81.4,22.3 80.9,24.3 80.8,26.1 81.7,26.7 85.1,27.1 87.9,28.5 89.9,30.9 90.8,32.9 89.4,34.6 88,35.2 86.7,35.5 86.8,38.1 86.7,40 85.7,40 85.8,38.1 85.6,35.5 83.9,35.1 83.2,34.9 82.5,37.5 82.3,39.6 81.3,39.6 81.6,37.4 82,34.4 81,33.4 79.3,31.7 77.9,29.3 77.5,26.4 78.3,23.8 79.2,21.3" fill="#000" stroke="#000" stroke-width="0.25" stroke-linejoin="round"/>
<path d="M41.8,40.1H101" stroke="#000" stroke-width="1.3" fill="none"/>
<path d="M42.2,39.2Q42.4,37 44.6,37.4Q46.2,37.8 45.6,39M46.5,38.6Q49,37.2 51.5,38.4T55.5,37.8M100.6,39.2Q100.4,37 98.2,37.4Q96.6,37.8 97.2,39M96.3,38.6Q93.8,37.2 91.3,38.4T87.3,37.8" stroke="#111" stroke-width="0.9" fill="none"/>
<path d="M49.9,32.9h0M45.3,35.2h0M46.1,34.8h0M46.3,37.1h0M48.4,35.6h0M45.4,37.3h0M47.9,36.9h0M52.2,31.7h0M47.5,30.9h0M53,37h0M53.5,35.1h0M51.8,35.1h0M51.7,32.8h0M94.7,27.9h0M92.1,35h0M92.7,33.9h0M97.6,35h0M94.3,33.9h0M92.5,32h0M97.5,35.7h0M91.7,36.9h0M92.9,32.1h0M92.3,35.6h0M96.8,36.1h0" stroke="#666" stroke-width="1.1" stroke-linecap="round" fill="none"/>
<path d="M46.3,36.5h0M48.4,35.5h0M49.7,33.1h0M48,33.4h0M49,34.6h0M49.7,35.2h0M53.9,37.5h0M95.4,34.7h0M93.9,26.1h0M96.5,33.9h0M96.4,33.8h0M89.3,37.3h0M89.9,33.4h0M96.4,32.6h0M97.2,33.6h0M91.8,33.1h0M95.3,33.9h0" stroke="#999" stroke-width="1.1" stroke-linecap="round" fill="none"/>
<path d="M50.5,34.8h0M49,33.1h0M49.5,34.7h0M52.3,30.9h0M48.6,28.2h0M44.4,36.4h0M46.5,32.2h0M47.7,34.3h0M49.7,35.5h0M44.3,37.2h0M52,36.8h0M48.6,36.6h0M46.8,35h0M50.5,31.5h0M52,36.1h0M44.7,36.8h0M51.2,31.3h0M49.4,26.2h0M50.8,31.1h0M49.7,32.1h0M93.3,28.4h0M94.9,31.2h0M94.5,28.4h0M96.8,31.9h0M98.2,37.4h0M94.4,29h0M95.9,30.9h0M93.1,30.8h0M93.4,28.3h0M93.5,29.4h0M89.8,36.9h0M93,29.3h0M95.2,32.1h0M91.1,35.6h0M92.4,29.9h0M92.5,30.4h0M90.8,36.2h0M92.3,27.9h0M91.9,36.1h0M63.4,53.2h0M79.2,53.2h0M54,51.7h0M51.4,51.5h0M69.3,47h0M99.6,42.4h0M56.1,52.1h0M87.4,52.1h0M86.8,46.1h0M71.3,46.5h0M95.9,44.7h0M95.1,43.1h0M76.9,44.3h0M51.7,48h0M90.8,50.1h0M87,47.3h0M61.8,46h0M55.7,44.4h0M94.7,43.2h0M70.7,45.1h0M97.9,44.7h0M60.4,52.7h0M49.6,47.4h0M74.4,52.6h0M87.6,45.2h0M77.5,48.1h0M65.2,43h0M65.8,47.4h0M88,51.1h0M88.4,45.8h0M89,50.7h0M57.6,50.4h0M68.4,54h0M57.6,51.8h0M61.9,42.3h0M58.1,53.5h0M97.2,44.8h0M90.7,51.4h0M69.9,46.1h0M49.4,48.7h0M60.4,47.7h0M49.3,44h0M60.2,54.1h0M80.7,53.1h0M95.9,46.1h0M99.4,44.6h0M55.5,51.5h0M92.5,46.4h0M46.9,44.2h0M73.6,45h0" stroke="#000" stroke-width="1.1" stroke-linecap="round" fill="none"/>
<path d="M50.9,30.7h0M49.9,30.5h0M49.2,37h0M48.1,27.8h0M45.8,33.5h0M50.1,36.4h0M95.3,29h0M93.9,28.2h0M94,29.9h0M91.2,31.4h0M88.8,36.8h0M90.7,35.3h0M92.4,29.4h0M94.5,36.3h0M95,33.4h0M95.9,32.7h0" stroke="#333" stroke-width="1.1" stroke-linecap="round" fill="none"/>
<path d="M84.1,50.8h0M85.1,52.7h0M84.2,51.4h0M75.1,53.3h0M79.9,54.1h0M67.9,44.3h0M99,43.4h0M50.3,49.6h0M91.2,44h0M64.2,53.2h0M85.4,52.2h0M54.6,48h0M82,53.5h0M58.6,49.2h0M79,44.1h0M58.6,48.1h0M69.1,43.1h0M87.3,51.7h0M58.2,52.8h0" stroke="#555" stroke-width="1.1" stroke-linecap="round" fill="none"/>
<path d="M68.1,52.9h0M72.8,53.5h0M57.3,48.9h0M86.5,44.2h0M94.7,42.6h0M86.7,51h0M60.7,43h0M58.7,49.3h0M76.2,47.1h0M56.1,53.1h0M54.4,44.1h0M59.7,45h0M89.6,51.9h0M90.8,45.4h0M65.1,42.6h0M88,51.7h0M75.1,45.5h0M43.2,44.1h0M78,43h0M61.8,44.4h0M68.2,54.1h0M77.2,46.8h0M92.9,48.3h0" stroke="#222" stroke-width="1.1" stroke-linecap="round" fill="none"/>
<path d="M94.9,47.1h0M72.7,46.9h0M78.6,44.1h0M78.5,53.7h0M92.4,46.4h0M59,45.8h0M89.1,45.8h0M94.7,43.2h0M85.3,43.9h0M77.3,54.1h0M52.9,47.6h0M91.6,43.1h0M54.4,51.4h0M84.9,45.7h0M57.2,42.9h0M81.9,47.3h0M43.6,44.5h0M57.8,48.9h0M80.6,52.8h0M75.8,52.5h0" stroke="#888" stroke-width="1.1" stroke-linecap="round" fill="none"/>
<path d="M46.1,34.3l1.4,0.4M49.1,26.3l-0.2,0.9M50.1,34.1l0.9,0M50,25.9l-0.9,0.1M50.5,35.9l1,0M54.3,36l-0.9,0M49,36.6l0.1,0.9M95.5,35.4l1.2,0.8M92.4,34.3l0.6,0.9M94.6,28.4l-1,0.5M97.5,33.5l-0.2,1.4" stroke="#666" stroke-width="0.8" stroke-linecap="round" fill="none"/>
<path d="M44.8,36l0.6,0.6M48.3,27.8l0.1,1.2M48.8,33.9l-0,1M48.6,27l0.9,0.6M47.9,34.8l-0.2,1.4M54,35.6l0.1,0.9M48.9,24.6l0.7,0.8M51.6,29l-1.3,0.3M49.3,27.9l-0.3,1.5M53.3,36.3l-1.5,0.5M49.9,35.6l-1,0.5M49.6,33.5l0.8,0.3M94.4,28.7l0.7,0.4M93.2,31.6l-1.5,0M91.9,28.7l1.4,0.4M95.9,32.1l-0.6,1.3M92.7,36.4l1.2,0.9M89.4,34.1l0.2,1.4M91.9,32.3l-0.8,0.6M96.5,33.1l1.4,0.4M89.9,36l-1.2,0.8M91.8,34.8l-0.5,0.9M94,35.6l0.2,1.5M94.5,27.6l-1,0.6M53.9,46.3l-0.1,1M69.7,52.5l1.4,0.7M56.4,52.5l0.5,1.1M75.8,53.8l-0.5,0.7M55.3,45.2l-1.2,0.2M78.5,43.2l0.4,1.4M52.9,49.3l-1.1,0M80.4,42.1l0.1,1.1M86.3,46.5l-0.7,1.2M76,46.4l0.2,0.8M50.6,49.5l0,0.9M52.3,47l-0.7,0.5M93.2,48.4l-0.5,0.6M71.2,53.6l-1.2,0.6M56.9,52.3l-1.3,0.9M67.6,45.5l-1.4,0.2M98.2,44.4l-0.9,0.9M68.8,44.5l0.8,1.4M64.2,44.1l1,1.2M49.5,44.8l-1.1,0.2M71.8,44.1l0.6,0.9M57.8,45.7l0.6,0.9M91.5,49.9l-0.4,1.1M52.9,45.1l-0.5,0.8M99.4,43.6l0.5,1.1M76.7,52l-0.5,1.3M59.7,43.7l0.9,0.3M67.2,46.4l0.9,0.1M80.6,53.4l0.7,0.4M71.8,53.9l-1.4,0.3M94.2,47.4l-0.2,1.4M89.9,49.1l-0.6,1.1M75.2,44.1l1.5,0.6M71.4,47.1l-0.9,0.4M56.6,46.7l0.6,1.1M88.1,44.3l-0.9,1M84.5,46.9l-1.3,0.2M69.2,43.1l0.6,1.3M52.6,48.2l-0,0.9" stroke="#000" stroke-width="0.8" stroke-linecap="round" fill="none"/>
<path d="M47.8,31l-0.2,0.9M48.7,34.9l-1.4,0.2M51.3,36.2l-1.3,0.4M46.3,33.6l0.2,1.1M49.5,32l1,0.4M46.9,32.3l0.8,0.4M50.2,37l-0.5,0.6M89.8,34.7l-1.2,0.4M96.5,30.6l-1,0.8M96,34.1l-1.1,0.3M93.9,30.9l-0.5,1.3M92.3,26.6l0.8,0.1M92.6,35.6l0.8,0.4M92.6,34.1l1.2,0.3M98.6,36.6l-0.9,0.6" stroke="#333" stroke-width="0.8" stroke-linecap="round" fill="none"/>
<path d="M46.9,34.7l-0.6,0.7M49.8,23.7l-0.9,0.3M52.4,32.3l-1,0M49.5,27.9l0.5,1.2M47.2,31l1.2,0.8M48.3,26.9l-0.8,1M54.2,36.8l-1.4,0.7M51.1,32.3l0.9,0.3M92.9,31.4l0.9,0.7M96.2,34.7l-0.5,1.3M93.8,32.2l-0.1,1.2M93.1,24.7l0.8,1.1M92.7,31.1l0.5,1M93.4,34.9l0.1,1.1" stroke="#999" stroke-width="0.8" stroke-linecap="round" fill="none"/>
<path d="M92.8,43.3l-1.4,0.2M58.7,52.6l-0.2,1.2M64.3,41.9l-0.2,1.1M52.9,48.1l-0.1,1M63.4,52.4l-1.5,0.6M55.7,50.8l0.3,1.4M50.7,49.2l0.7,1.1M85.4,50l0.3,1M88.6,46.9l1.1,0.2M89.7,47.3l-0.9,0.8M73.9,41.6l-0.2,1.5M78.3,46.9l-0.5,0.8M81.3,52.9l1.1,0.2M89.4,48.6l1.3,0.7M56.4,44.9l-0.2,1.2M91.8,44.1l0.6,1.1M57.8,45l-1.2,0.8M88.5,47.9l-0.8,0.2M74.1,53.5l1,1.2M59.7,52.6l0.2,1.5M60.4,52.9l0.9,0.9M87.8,45.3l1.1,0.1M59.2,44.2l0.5,1.4M60.8,46.5l1,0.2M77.5,52l0.1,1M62.5,52.7l1.4,0.5" stroke="#555" stroke-width="0.8" stroke-linecap="round" fill="none"/>
<path d="M52.4,44l-1.4,0.4M90.1,43.6l0.4,1.2M48.9,49.1l0.7,0.9M50,46.1l-1.1,0.4M54.6,46.8l-0.6,0.8M74.5,44l0,0.8M91.4,49.8l-0.4,0.8M65.3,53.3l-0.9,0.2M63.3,46.5l-0.6,0.8M77.6,42.1l-0.5,0.8M84.5,50.3l-1,0.4M79.4,53.4l0.2,1.4M49.1,45.9l0.7,0.4M86.4,50.9l0.5,1.4" stroke="#222" stroke-width="0.8" stroke-linecap="round" fill="none"/>
<path d="M85.2,43.4l-0.1,0.9M58.1,42.7l0.1,1.2M74.2,53.3l-0.9,0.7M79.8,54l-0.8,0.2M49.3,43.1l-0.1,1.1M79.3,52.5l-1.2,0.9M63.5,46.5l0.7,1M79.3,42.1l-0.4,0.9M57.3,45.1l0.9,1.1M59.4,44.9l-0.7,0.6M75.8,52.9l-1.2,0.3M84.8,49l1,1.1M51.9,49l0.6,0.7M56.2,42.3l0.3,1M90.8,50.4l0.9,0.9M54.4,48.3l-0.9,1M45.2,42.7l0.3,1M87.2,46.3l0,1.2M45.2,45.1l-0,0.8M69.9,44.4l-0.8,0.4M86.8,51.9l1.1,0.9M49.7,49.7l0.2,0.9M80.2,45.8l0.6,0.5M71.7,53l0.4,0.8" stroke="#888" stroke-width="0.8" stroke-linecap="round" fill="none"/>
<rect x="59.5" y="48.8" width="23.6" height="3.1" fill="#8a8a8a" stroke="#111" stroke-width="0.7"/>
<path d="M61,50.4H82" stroke="#222" stroke-width="1.5" stroke-dasharray="1.1 0.9"/>
<path d="M67.2,52.4H75.4V56.6L73.6,55.6L71.3,57.2L69,55.6L67.2,56.6Z" fill="#111"/>
<path d="M64,55.2H78.6" stroke="#222" stroke-width="0.8"/>
</g>
<!--/CREST-->
<path id="agline" d="M14.2,76.55H128.3" stroke="#4a4a4a" stroke-width="0.85"/>
<!--LEGEND-->
<g stroke="#555" stroke-width="0.8">
<rect x="570.7" y="116.5" width="27.9" height="31" fill="#ff0000"/>
<rect x="570.7" y="147.5" width="27.9" height="31" fill="#f8a26c"/>
<rect x="570.7" y="178.5" width="27.9" height="31" fill="#ffff66"/>
<rect x="570.7" y="209.5" width="27.9" height="31" fill="#ffffff" stroke="#777"/>
<rect x="570.7" y="240.5" width="27.9" height="31" fill="#ccffff"/>
<rect x="570.7" y="271.5" width="27.9" height="31" fill="#5aafdc"/>
<rect x="570.7" y="302.5" width="27.9" height="31" fill="#0000ff"/>
</g>
</svg>
<div class="t serif" id="ag" style="left:14.6px;top:62.4px;font-size:11.5px;letter-spacing:-0.19px;">Australian Government</div>
<div class="t serif" id="bom" style="left:21.3px;top:81px;font-size:10.2px;">Bureau of Meteorology</div>
<div class="t" id="lt" style="left:524px;top:95px;font-size:9.8px;">Average recurrence interval</div>
<div class="t lab" id="l1" style="top:127.6px;">&gt; 30 years</div>
<div class="t lab" id="l2" style="top:158.6px;">&gt; 10 years</div>
<div class="t lab" id="l3" style="top:189.6px;">&gt; 1 year</div>
<div class="t lab" id="l4" style="top:220.6px;">&lt; 1 year</div>
<div class="t lab" id="l5" style="top:251.6px;">&gt; 1 year</div>
<div class="t lab" id="l6" style="top:282.6px;">&gt; 10 years</div>
<div class="t lab" id="l7" style="top:313.6px;">&gt; 30 years</div>
<div class="t rot" id="warm" style="left:557.4px;top:165.35px;transform:translate(-50%,-50%) rotate(-90deg) scale(0.93,1);">Warm</div>
<div class="t rot" id="cool" style="left:556.8px;top:288.25px;">Cool</div>
<div class="t" id="t1" style="left:123.9px;top:389.5px;font-size:12px;">Avg. recurrence interval for daily max.</div>
<div class="t" id="t2" style="left:112.9px;top:407.7px;font-size:12px;letter-spacing:-0.03px;">temp.: 24 hours from 9am on 18 Jan 2010</div>
<div class="t" id="t3" style="left:140.6px;top:423.1px;font-size:9.75px;">Product of the National Climate Centre</div>
<div class="t sm" id="url" style="left:4.3px;top:446.1px;">http://www.bom.gov.au</div>
<div class="t sm" id="copy" style="left:1px;top:459.4px;">© Commonwealth of Australia 2010, Australian Bureau of Meteorology</div>
<div class="t sm" id="iss" style="left:614.3px;top:459.4px;">Issued: 29/06/2010</div>
</body>
</html>
